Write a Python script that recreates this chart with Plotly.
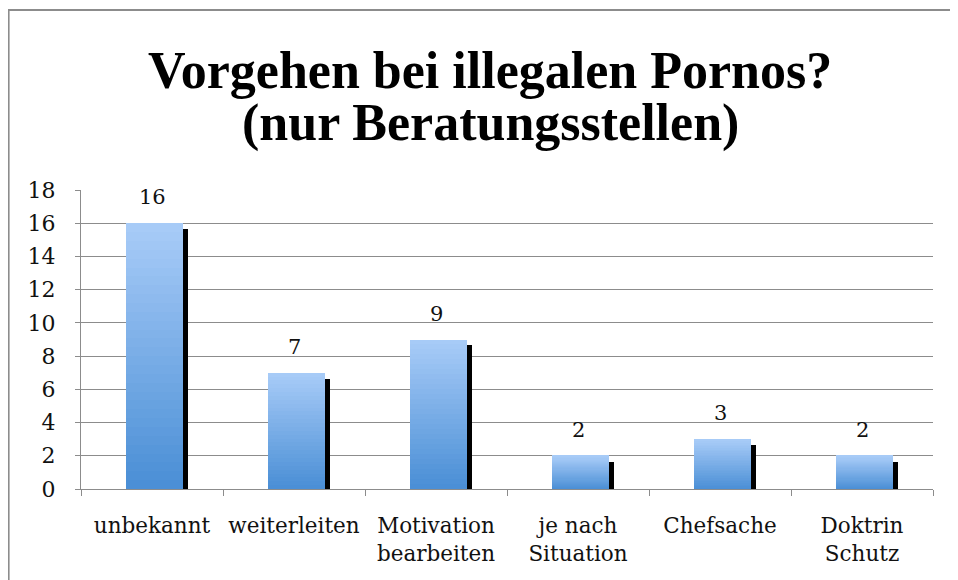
import plotly.graph_objects as go

categories = ["unbekannt", "weiterleiten", "Motivation<br>bearbeiten", "je nach<br>Situation", "Chefsache", "Doktrin<br>Schutz"]
values = [16, 7, 9, 2, 3, 2]
y_ticks = list(range(0, 19, 2))

title_lines = ["Vorgehen bei illegalen Pornos?", "(nur Beratungsstellen)"]

top_rgb = (169, 204, 248)
bot_rgb = (73, 142, 213)
N = 30
SERIF = "DejaVu Serif"
TITLE_FONT = "Liberation Serif"

# page shows an 8px body margin, so the figure is laid out 8px smaller
W, H = 950, 572
ML, MR, MT = 73, 25, 182
PLOT_H = 299
MB = H - MT - PLOT_H
PLOT_W = W - ML - MR


def py(screen_y):
    return 1 + (MT + 8 - screen_y) / PLOT_H


def px(screen_x):
    return (screen_x - 8 - ML) / PLOT_W


fig = go.Figure()

# gradient bars built as stacked slices of each value
for k in range(N):
    t = (k + 0.5) / N
    c = tuple(round(bot_rgb[i] + (top_rgb[i] - bot_rgb[i]) * t) for i in range(3))
    fig.add_trace(go.Bar(
        x=categories,
        y=[v / N * 1.02 if k < N - 1 else v / N for v in values],
        base=[v * k / N for v in values],
        marker=dict(color="rgb(%d,%d,%d)" % c, line=dict(width=0)),
        width=0.4, offset=-0.185,
        hoverinfo="skip", showlegend=False,
    ))

# shadow strip
fig.add_trace(go.Bar(
    x=categories,
    y=[v - 0.35 for v in values],
    marker=dict(color="black", line=dict(width=0)),
    width=0.042, offset=0.215,
    hoverinfo="skip", showlegend=False,
))

for c, v in zip(categories, values):
    fig.add_annotation(x=c, y=v, text=str(v), showarrow=False,
                       yanchor="bottom", yshift=12,
                       font=dict(family=SERIF, size=21, color="#111"))

# title as two lines for tight line spacing
for line, sy in zip(title_lines, [70, 123]):
    fig.add_annotation(xref="paper", yref="paper", x=px(490), y=py(sy),
                       text="<b>%s</b>" % line, showarrow=False,
                       xanchor="center", yanchor="middle",
                       font=dict(family=TITLE_FONT, size=52, color="black"))

fig.add_shape(type="rect", xref="paper", yref="paper",
              x0=px(8.6), x1=1.06, y0=-0.4, y1=py(10),
              line=dict(color="#8c8c8c", width=2), layer="below")

fig.update_layout(
    width=W, height=H,
    margin=dict(l=ML, r=MR, t=MT, b=MB, autoexpand=False),
    barmode="overlay", bargap=0,
    plot_bgcolor="white", paper_bgcolor="white",
    xaxis=dict(showline=True, linecolor="#8c8c8c", linewidth=1,
               ticks="outside", ticklen=6, tickcolor="#8c8c8c",
               tickson="boundaries", ticklabelstandoff=17,
               tickangle=0, automargin=False,
               tickfont=dict(family=SERIF, size=21.5, color="#111"),
               showgrid=False),
    yaxis=dict(range=[0, 18], tickvals=y_ticks, showline=True,
               linecolor="#8c8c8c", linewidth=1,
               ticks="outside", ticklen=5, tickcolor="#8c8c8c",
               ticklabelstandoff=15, automargin=False,
               showgrid=True, gridcolor="#8c8c8c", gridwidth=1,
               zeroline=False,
               tickfont=dict(family=SERIF, size=22, color="#111")),
)

fig.write_html("out.html")
